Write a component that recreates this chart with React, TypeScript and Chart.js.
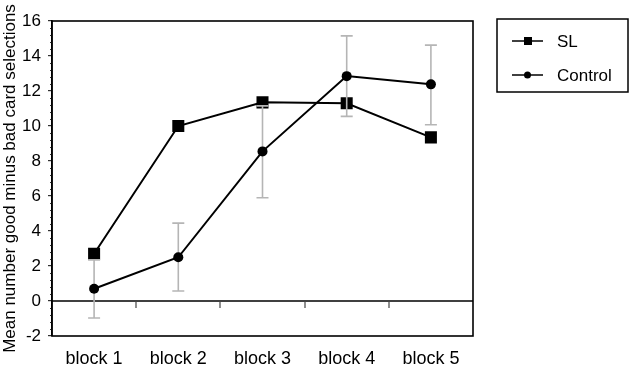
import React, { useEffect, useRef } from "react";
import { Chart, registerables } from "chart.js";

Chart.register(...registerables);

const categories = ["block 1", "block 2", "block 3", "block 4", "block 5"];
const seriesNames = ["SL", "Control"];
const slValues = [2.7, 10.0, 11.35, 11.3, 9.35];
const controlValues = [0.7, 2.5, 8.55, 12.85, 12.38];
const controlErrLow = [-0.97, 0.57, 5.9, 10.55, 10.07];
const controlErrHigh = [2.35, 4.45, 11.15, 15.15, 14.62];
const yMin = -2;
const yMax = 16;
const yStep = 2;
const yTitle = "Mean number good minus bad card selections";

const FONT = "'Liberation Sans', Arial, Helvetica, sans-serif";

const decorPlugin = {
  id: "decor",
  beforeDatasetsDraw(chart: any) {
    const { ctx, chartArea, scales } = chart;
    const { left, right, top, bottom } = chartArea;
    const x = scales.x;
    const y = scales.y;
    ctx.save();
    // minor ticks on y axis
    ctx.strokeStyle = "#333";
    ctx.lineWidth = 1;
    const nMinor = Math.round((yMax - yMin) / 0.4);
    for (let i = 0; i <= nMinor; i++) {
      if (i % 5 === 0) continue;
      const v = yMin + i * 0.4;
      const py = Math.round(y.getPixelForValue(v)) + 0.5;
      ctx.beginPath();
      ctx.moveTo(left - 2, py);
      ctx.lineTo(left, py);
      ctx.stroke();
    }
    // zero line
    const y0 = y.getPixelForValue(0);
    ctx.strokeStyle = "#000";
    ctx.lineWidth = 1.5;
    ctx.beginPath();
    ctx.moveTo(left, y0);
    ctx.lineTo(right, y0);
    ctx.stroke();
    // ticks between categories on zero line
    ctx.strokeStyle = "#444";
    ctx.lineWidth = 1.2;
    for (let i = 1; i < categories.length; i++) {
      const px = Math.round((x.getPixelForValue(i - 1) + x.getPixelForValue(i)) / 2);
      ctx.beginPath();
      ctx.moveTo(px, y0);
      ctx.lineTo(px, y0 + 7);
      ctx.stroke();
    }
    // frame
    ctx.strokeStyle = "#000";
    ctx.lineWidth = 1.6;
    ctx.strokeRect(left, top, right - left, bottom - top);
    ctx.restore();
  },
  beforeDatasetDraw(chart: any, args: any) {
    if (args.index !== 1) return;
    const { ctx, scales } = chart;
    const x = scales.x;
    const y = scales.y;
    ctx.save();
    ctx.strokeStyle = "#b5b5b5";
    ctx.lineWidth = 1.6;
    for (let i = 0; i < categories.length; i++) {
      const px = x.getPixelForValue(i);
      const lo = y.getPixelForValue(controlErrLow[i]);
      const hi = y.getPixelForValue(controlErrHigh[i]);
      ctx.beginPath();
      ctx.moveTo(px, lo);
      ctx.lineTo(px, hi);
      ctx.moveTo(px - 6, lo);
      ctx.lineTo(px + 6, lo);
      ctx.moveTo(px - 6, hi);
      ctx.lineTo(px + 6, hi);
      ctx.stroke();
    }
    ctx.restore();
  },
  afterDraw(chart: any) {
    const { ctx } = chart;
    ctx.save();
    const bx = 497, by = 19, bw = 131, bh = 73;
    ctx.strokeStyle = "#000";
    ctx.lineWidth = 1.5;
    ctx.strokeRect(bx, by, bw, bh);
    const rows = [41, 75];
    ctx.font = `17px ${FONT}`;
    ctx.fillStyle = "#000";
    ctx.textBaseline = "middle";
    ctx.textAlign = "left";
    rows.forEach((ry, i) => {
      ctx.beginPath();
      ctx.lineWidth = 1.5;
      ctx.moveTo(512, ry);
      ctx.lineTo(543, ry);
      ctx.stroke();
      if (i === 0) {
        ctx.fillRect(524, ry - 4, 8, 8);
      } else {
        ctx.beginPath();
        ctx.arc(527.5, ry, 3.5, 0, Math.PI * 2);
        ctx.fill();
      }
      ctx.fillText(seriesNames[i], 557, ry + 1);
    });
    ctx.restore();
  },
};

export default function App() {
  const ref = useRef<HTMLCanvasElement | null>(null);
  useEffect(() => {
    if (!ref.current) return;
    const chart = new Chart(ref.current, {
      type: "line",
      data: {
        labels: categories,
        datasets: [
          {
            label: seriesNames[0],
            data: slValues,
            borderColor: "#000",
            backgroundColor: "#000",
            borderWidth: 2,
            pointStyle: "rect",
            pointRadius: 8.5,
            pointBorderWidth: 0,
            tension: 0,
            order: 2,
          },
          {
            label: seriesNames[1],
            data: controlValues,
            borderColor: "#000",
            backgroundColor: "#000",
            borderWidth: 2,
            pointStyle: "circle",
            pointRadius: 5,
            pointBorderWidth: 0,
            tension: 0,
            order: 1,
          },
        ],
      },
      options: {
        animation: false,
        responsive: true,
        maintainAspectRatio: false,
        layout: { padding: { top: 21, right: 157, bottom: 0, left: 0 } },
        plugins: {
          legend: { display: false },
          tooltip: { enabled: false },
        },
        scales: {
          x: {
            type: "category",
            offset: true,
            grid: { display: false, drawTicks: false },
            border: { display: false },
            ticks: {
              color: "#000",
              font: { family: FONT, size: 18 },
              padding: 12,
              maxRotation: 0,
            },
            afterFit: (s: any) => {
              s.height = 30;
            },
          },
          y: {
            min: yMin,
            max: yMax,
            ticks: {
              stepSize: yStep,
              color: "#000",
              font: { family: FONT, size: 17 },
              padding: 7,
            },
            grid: {
              drawOnChartArea: false,
              drawTicks: true,
              tickLength: 4,
              color: "#333",
              lineWidth: 1.2,
            },
            border: { display: true, color: "#000", width: 1.6 },
            title: {
              display: true,
              text: yTitle,
              color: "#000",
              font: { family: FONT, size: 17 },
              padding: 0,
            },
            afterFit: (s: any) => {
              s.width = 52;
            },
          },
        },
      },
      plugins: [decorPlugin],
    });
    return () => chart.destroy();
  }, []);
  return (
    <div style={{ position: "fixed", left: 0, top: 0, width: 630, height: 366, background: "#fff" }}>
      <canvas ref={ref} />
    </div>
  );
}
